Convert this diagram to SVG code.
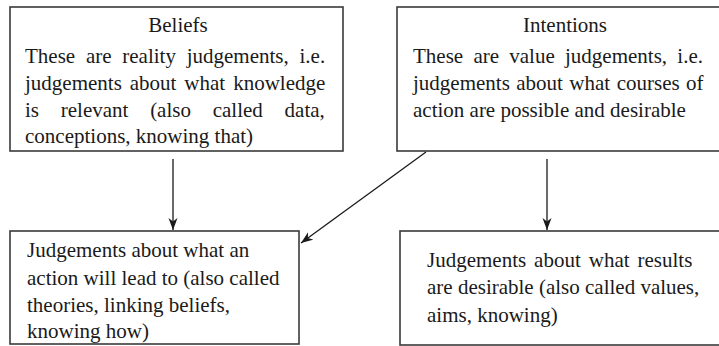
<svg xmlns="http://www.w3.org/2000/svg" width="719" height="346" viewBox="0 0 719 346">
<style>
.box{fill:#fff;stroke:#3a3a3a;stroke-width:1.6}
.t{font-family:"Liberation Serif","Times New Roman",serif;font-size:21px;fill:#1a1a1a}
.c{stroke:#1a1a1a;stroke-width:1.3;fill:none}
</style>
<defs>
<marker id="ah" viewBox="0 0 12 10" refX="12" refY="5" markerWidth="12" markerHeight="10" markerUnits="userSpaceOnUse" orient="auto">
<path d="M0,0.5 L12,5 L0,9.5 L3.5,5 Z" fill="#1a1a1a"/>
</marker>
</defs>
<rect width="719" height="346" fill="#fff"/>
<g id="beliefs">
<rect class="box" x="10" y="7" width="333" height="144"/>
<text class="t" x="178" y="32" text-anchor="middle">Beliefs</text>
<text class="t" x="25" y="63" word-spacing="5.5">These are reality judgements, i.e.</text>
<text class="t" x="25" y="90" word-spacing="2.7">judgements about what knowledge</text>
<text class="t" x="25" y="117" word-spacing="16.5">is relevant (also called data,</text>
<text class="t" x="25" y="143">conceptions, knowing that)</text>
</g>
<g id="intentions">
<rect class="box" x="397" y="7" width="330" height="144"/>
<text class="t" x="565" y="32" text-anchor="middle">Intentions</text>
<text class="t" x="413" y="63" word-spacing="5">These are value judgements, i.e.</text>
<text class="t" x="413" y="90" word-spacing="1.2">judgements about what courses of</text>
<text class="t" x="413" y="117">action are possible and desirable</text>
</g>
<g id="theories">
<rect class="box" x="10" y="231" width="289" height="113"/>
<text class="t" x="27" y="257">Judgements about what an</text>
<text class="t" x="27" y="285">action will lead to (also called</text>
<text class="t" x="27" y="312">theories, linking beliefs,</text>
<text class="t" x="27" y="338">knowing how)</text>
</g>
<g id="values">
<rect class="box" x="400" y="231" width="330" height="114"/>
<text class="t" x="427" y="267" word-spacing="2.7">Judgements about what results</text>
<text class="t" x="427" y="294">are desirable (also called values,</text>
<text class="t" x="427" y="322">aims, knowing)</text>
</g>
<g id="connectors">
<line class="c" x1="173" y1="159" x2="173" y2="230" marker-end="url(#ah)"/>
<line class="c" x1="426" y1="152" x2="301" y2="243" marker-end="url(#ah)"/>
<line class="c" x1="547" y1="159" x2="547" y2="230" marker-end="url(#ah)"/>
</g>
</svg>
